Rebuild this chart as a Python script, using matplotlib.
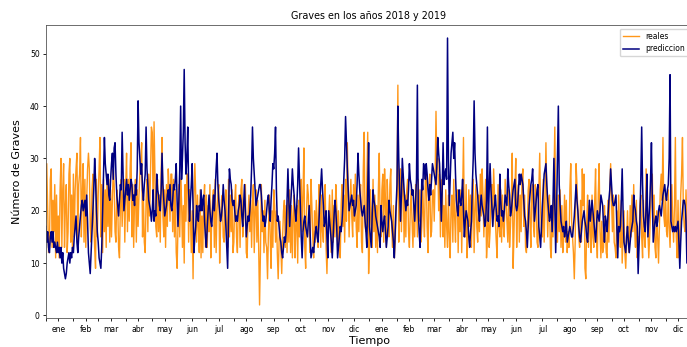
import matplotlib
matplotlib.use('Agg')
import matplotlib.pyplot as plt
import matplotlib.dates as mdates
from matplotlib.ticker import FuncFormatter, NullFormatter
import pandas as pd

meses = ['ene', 'feb', 'mar', 'abr', 'may', 'jun', 'jul', 'ago', 'sep', 'oct', 'nov', 'dic']

# valores diarios (2018)
reales_2018 = [
    17,29,20,12,13,26,28,13,22,16,25,11,23,14,19,11,24,30,13,24,29,13,21,25,12,16,27,30,14,23,12,
    27,15,24,28,31,14,25,27,34,15,23,29,14,26,13,22,28,31,28,17,14,24,27,18,13,9,26,15,
    23,28,34,15,25,12,26,16,24,13,27,17,26,14,24,15,22,28,25,16,14,24,21,13,11,21,26,17,23,26,14,
    24,31,16,26,18,28,33,15,25,13,22,26,14,24,17,23,27,29,33,15,23,14,12,22,26,16,27,19,28,36,
    35,20,37,27,17,15,26,16,23,14,27,34,19,15,24,13,25,17,28,24,18,27,27,16,26,15,24,12,9,17,25,
    15,26,22,13,21,10,25,18,27,27,14,24,19,12,20,7,22,29,23,14,23,17,12,24,11,19,12,22,25,13,
    23,13,21,16,25,11,18,22,24,13,26,12,20,23,25,10,17,22,23,15,14,20,24,16,13,26,15,23,16,24,12,
    14,22,25,15,12,21,23,13,24,26,15,18,22,25,12,11,19,23,16,22,13,21,25,12,20,24,14,22,13,2,12,
    25,16,20,12,22,14,13,7,16,23,15,9,20,13,24,21,14,20,12,7,14,18,13,8,15,20,22,13,21,12,
    22,14,24,12,21,11,19,23,11,17,21,10,22,15,24,26,16,23,32,13,9,20,25,23,16,12,26,21,15,11,20,
    14,22,17,13,25,20,13,23,16,14,22,25,13,8,15,19,23,18,12,24,14,21,15,25,21,13,20,14,11,21,
    25,17,23,14,26,18,33,23,15,22,26,19,15,25,18,27,17,13,23,16,24,25,14,12,28,35,17,16,26,35,8,
]
prediccion_2018 = [
    17,14,16,13,12,15,16,14,16,13,14,13,12,14,12,13,11,13,10,12,9,8,7,8,10,11,12,10,12,11,13,
    12,15,17,19,14,12,15,17,19,21,22,20,21,22,19,23,18,12,10,8,12,16,20,24,30,26,20,16,
    14,11,10,9,13,20,27,34,29,27,25,27,23,22,26,29,31,26,32,33,27,23,21,19,22,25,24,35,27,20,22,
    24,26,23,25,22,24,26,25,22,23,21,25,23,28,41,33,30,27,29,24,22,25,27,36,28,25,22,21,20,18,
    20,24,18,20,19,27,24,23,21,20,24,31,25,22,19,20,21,23,24,22,25,21,20,22,25,24,26,29,22,17,22,
    28,40,26,30,35,47,33,27,30,36,24,18,22,25,29,20,12,15,17,21,19,18,21,20,24,20,22,23,18,15,
    13,17,20,23,20,18,17,20,23,20,24,28,31,25,22,20,18,19,21,25,22,20,17,13,9,18,28,26,25,22,21,
    22,20,18,19,18,20,21,23,22,19,17,21,25,20,15,17,19,18,20,23,28,36,30,27,24,21,22,23,24,25,25,
    23,20,18,19,17,18,20,22,23,20,18,22,25,29,28,31,36,24,18,19,17,15,14,12,11,13,15,14,16,22,
    28,22,17,21,24,28,25,23,20,18,21,25,32,26,21,15,11,16,18,19,17,16,15,18,21,16,11,12,13,12,14,
    16,17,15,14,18,22,25,28,24,21,17,18,20,15,11,20,18,16,14,11,15,19,22,20,17,11,13,15,17,16,
    18,21,26,30,38,33,28,24,20,21,22,23,21,22,19,20,21,25,31,27,24,22,20,19,20,21,18,16,13,24,33,
]

# valores diarios (2019)
reales_2019 = [
    14,24,19,13,26,16,23,13,21,12,24,31,18,15,24,27,14,28,22,13,26,20,15,25,28,17,13,21,11,14,20,
    23,44,14,22,28,16,26,27,14,23,15,24,26,16,13,20,24,18,13,21,15,25,22,15,26,18,24,14,
    17,25,19,15,26,28,17,12,24,27,15,16,23,24,18,26,39,28,30,20,27,15,23,26,15,21,13,24,17,13,23,
    15,11,21,23,14,26,19,14,23,24,12,21,16,24,12,22,34,17,15,25,11,15,24,17,23,13,22,26,12,20,
    25,17,14,23,16,27,19,28,23,15,22,26,11,15,23,13,16,22,25,17,28,23,18,14,11,25,17,15,24,14,23,
    17,15,26,22,18,14,24,13,17,22,31,9,16,24,30,13,22,25,14,23,16,26,28,17,23,13,12,16,24,26,
    18,13,24,25,17,15,25,22,14,13,24,31,20,16,15,26,14,22,33,23,15,22,23,13,11,21,15,26,36,20,14,
    14,23,16,24,13,21,12,16,23,14,22,12,16,13,24,29,18,15,12,7,14,29,25,20,15,13,22,14,28,21,27,
    9,7,18,23,13,21,16,12,23,15,13,22,28,15,11,23,29,16,11,18,12,13,21,17,12,11,22,14,24,29,
    22,16,23,14,13,11,20,14,23,17,13,22,10,15,20,12,9,14,20,14,12,21,15,23,16,25,17,13,22,11,15,
    14,21,23,15,11,22,15,13,28,19,16,11,15,20,24,27,17,23,13,11,20,15,10,17,24,27,22,34,19,17,
    23,16,15,24,17,13,20,25,18,14,21,34,15,11,22,11,14,23,27,34,20,17,16,24,18,13,24,15,21,14,22,
]
prediccion_2019 = [
    17,15,13,19,24,22,21,19,18,17,16,15,13,21,18,16,18,19,16,13,15,17,22,20,19,18,16,14,11,16,21,
    25,40,30,24,18,23,30,27,24,22,20,22,21,24,29,26,25,23,24,21,18,22,26,44,20,16,13,19,
    26,24,29,28,26,29,27,24,22,25,23,26,29,28,27,26,25,29,34,31,29,24,18,24,33,25,27,28,26,53,30,
    21,26,31,33,35,30,33,27,22,20,19,24,22,21,23,26,20,15,18,20,19,18,15,13,16,18,25,30,41,31,
    27,25,23,20,18,21,23,21,20,19,17,18,22,36,18,24,29,24,21,17,20,21,23,20,18,19,17,27,22,19,20,
    18,20,23,22,21,28,25,23,19,20,22,24,25,26,21,20,21,24,27,25,27,26,25,22,19,18,16,13,17,21,
    23,25,26,28,23,18,20,22,24,25,17,15,13,17,21,24,27,28,29,25,22,20,18,19,21,16,22,30,21,12,20,
    30,40,25,21,18,17,16,17,15,16,18,14,15,16,17,16,15,15,17,19,22,25,22,20,17,15,14,16,18,19,20,
    18,17,15,14,18,22,18,20,22,20,18,16,14,17,20,19,18,20,23,22,21,17,14,19,18,16,19,22,24,28,
    25,22,21,21,22,23,17,11,17,16,17,22,28,20,14,13,12,15,17,14,12,14,16,17,18,23,21,20,18,17,8,
    13,18,26,36,25,19,17,16,21,27,15,18,21,26,33,22,14,16,18,19,17,18,20,21,20,19,21,23,24,25,
    23,22,24,25,30,46,18,17,16,17,16,17,16,17,18,14,9,14,18,20,22,22,21,18,10,14,16,18,15,17,16,
]

reales = reales_2018 + reales_2019
prediccion = prediccion_2018 + prediccion_2019
fechas = pd.date_range('2018-01-01', periods=len(reales), freq='D')
fechas_pred = pd.date_range('2018-01-01', periods=len(prediccion), freq='D')

fig = plt.figure(figsize=(6.87, 3.47), dpi=100)
ax = fig.add_axes([0.0668, 0.0827, 0.9408, 0.8461])

ax.plot(fechas, reales, color='#ff8c00', linewidth=1.0, alpha=0.9, label='reales')
ax.plot(fechas_pred, prediccion, color='navy', linewidth=1.1, label='prediccion')

ax.set_xlim(fechas[0], fechas[-1])
ax.xaxis.set_major_locator(mdates.MonthLocator())
ax.xaxis.set_major_formatter(NullFormatter())
ax.xaxis.set_minor_locator(mdates.MonthLocator(bymonthday=15))
ax.xaxis.set_minor_formatter(FuncFormatter(lambda x, pos: meses[mdates.num2date(x).month - 1]))
ax.tick_params(axis='x', which='both', length=2.5, width=0.6, labelsize=5.5, pad=2)
ax.tick_params(axis='y', length=2.5, width=0.6, labelsize=5.5, pad=2)

for s in ax.spines.values():
    s.set_linewidth(0.6)
    s.set_color('#555555')

ax.set_title('Graves en los años 2018 y 2019', fontsize=6.9, pad=4)
ax.set_xlabel('Tiempo', fontsize=8, labelpad=2)
ax.set_ylabel('Número de Graves', fontsize=8, labelpad=6)
ax.legend(loc='upper right', fontsize=5.5, handlelength=2.2, borderaxespad=0.5)

fig.savefig('out.png', dpi=100)
